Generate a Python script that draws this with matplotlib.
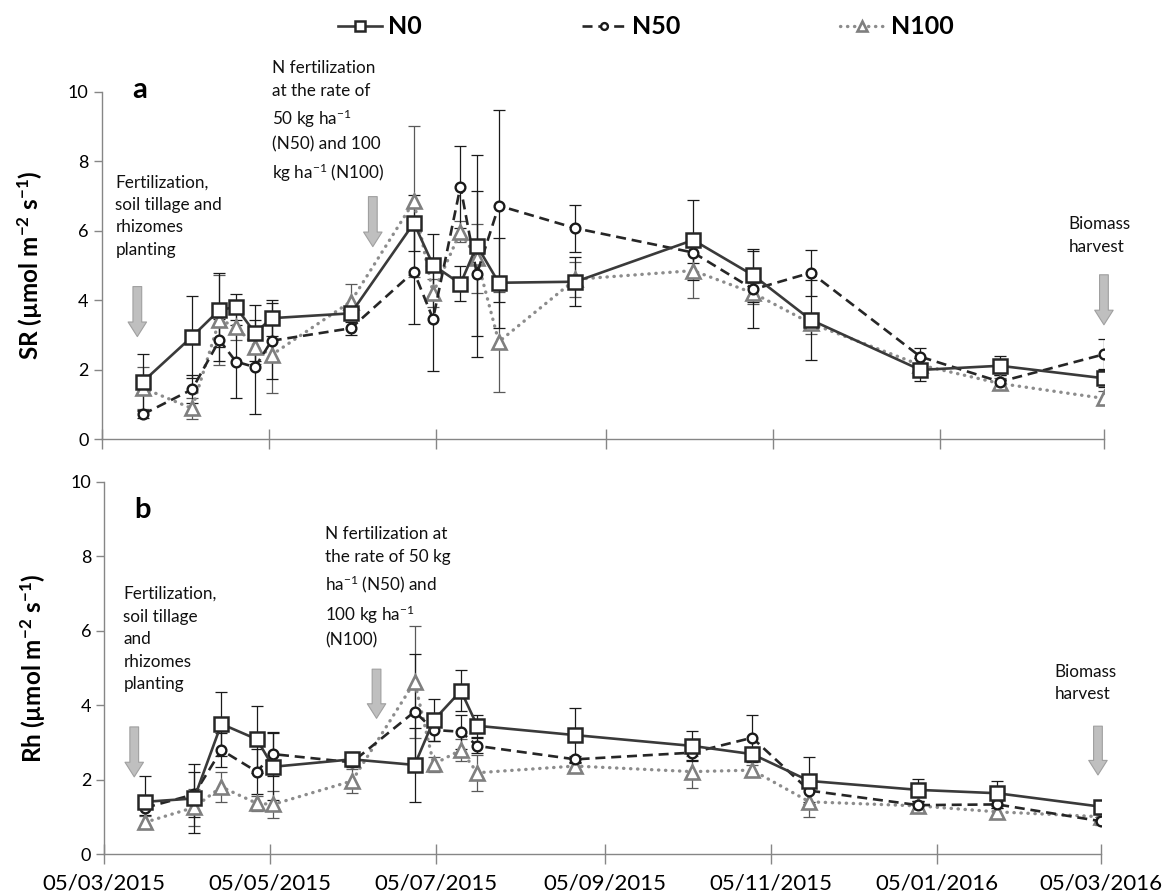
import matplotlib
matplotlib.use("Agg")
import matplotlib.pyplot as plt
import matplotlib.dates as mdates
import numpy as np
import pandas as pd

plt.rcParams['font.family'] = ['Lato', 'DejaVu Sans']
plt.rcParams['mathtext.fontset'] = 'custom'
plt.rcParams['mathtext.rm'] = 'Lato'
plt.rcParams['mathtext.bf'] = 'Lato:bold'
plt.rcParams['mathtext.it'] = 'Lato:italic'

# ---------------- data ----------------
dates_a = ['2015-03-20', '2015-04-07', '2015-04-17', '2015-04-23', '2015-04-30', '2015-05-06',
           '2015-06-04', '2015-06-27', '2015-07-04', '2015-07-14', '2015-07-20', '2015-07-28',
           '2015-08-25', '2015-10-07', '2015-10-29', '2015-11-19', '2015-12-29', '2016-01-27',
           '2016-03-05']
sr_n0 = [1.65, 2.95, 3.72, 3.80, 3.05, 3.48, 3.62, 6.22, 5.01, 4.47, 5.57, 4.50, 4.53, 5.73, 4.71, 3.43, 1.99, 2.11, 1.75]
sr_n50 = [0.71, 1.43, 2.85, 2.23, 2.07, 2.83, 3.19, 4.82, 3.46, 7.27, 4.75, 6.72, 6.07, 5.37, 4.31, 4.79, 2.37, 1.65, 2.44]
sr_n100 = [1.47, 0.88, 3.43, 3.24, 2.66, 2.42, 3.96, 6.84, 4.20, 5.97, 5.20, 2.80, 4.60, 4.85, 4.20, 3.33, 2.13, 1.60, 1.17]
sr_n0_se = [0.8, 1.18, 1.07, 0.37, 0.8, 0.52, 0.2, 0.8, 0.9, 0.5, 2.6, 1.3, 0.7, 1.15, 0.76, 1.15, 0.33, 0.28, 0.25]
sr_n50_se = [0.1, 0.4, 0.6, 1.06, 1.36, 1.1, 0.19, 1.5, 1.5, 1.18, 2.4, 2.76, 0.67, 0.3, 1.1, 0.66, 0.25, 0.2, 0.43]
sr_n100_se = [0.6, 0.3, 1.3, 0.4, 0.5, 1.1, 0.5, 2.16, 0.4, 0.3, 1.0, 1.44, 0.5, 0.8, 0.3, 0.3, 0.2, 0.15, 0.2]

dates_b = ['2015-03-20', '2015-04-07', '2015-04-17', '2015-04-30', '2015-05-06', '2015-06-04',
           '2015-06-27', '2015-07-04', '2015-07-14', '2015-07-20', '2015-08-25', '2015-10-07',
           '2015-10-29', '2015-11-19', '2015-12-29', '2016-01-27', '2016-03-05']
rh_n0 = [1.41, 1.50, 3.50, 3.09, 2.35, 2.55, 2.40, 3.60, 4.39, 3.45, 3.20, 2.91, 2.69, 1.97, 1.73, 1.64, 1.28]
rh_n50 = [1.25, 1.61, 2.80, 2.22, 2.69, 2.47, 3.83, 3.34, 3.29, 2.91, 2.55, 2.73, 3.13, 1.71, 1.32, 1.34, 0.89]
rh_n100 = [0.86, 1.26, 1.81, 1.37, 1.34, 1.97, 4.63, 2.42, 2.80, 2.19, 2.37, 2.22, 2.26, 1.41, 1.30, 1.14, 1.01]
rh_n0_se = [0.7, 0.92, 0.85, 0.9, 0.9, 0.2, 1.0, 0.56, 0.55, 0.3, 0.72, 0.4, 0.2, 0.63, 0.3, 0.34, 0.1]
rh_n50_se = [0.2, 0.6, 0.45, 0.6, 0.6, 0.1, 1.55, 0.3, 0.45, 0.2, 0.1, 0.2, 0.6, 0.3, 0.1, 0.1, 0.1]
rh_n100_se = [0.18, 0.5, 0.4, 0.2, 0.36, 0.33, 1.5, 0.2, 0.3, 0.48, 0.1, 0.43, 0.15, 0.4, 0.1, 0.1, 0.1]

series_names = ['N0', 'N50', 'N100']
x_ticks = ['2015-03-05', '2015-05-05', '2015-07-05', '2015-09-05', '2015-11-05', '2016-01-05', '2016-03-05']
y_ticks = [0, 2, 4, 6, 8, 10]

# annotations: (text, x date, y value)
notes_a = [
    ("Fertilization,\nsoil tillage and\nrhizomes\nplanting", '2015-03-10', 7.62),
    ("N fertilization\nat the rate of\n50 kg ha$^{-1}$\n(N50) and 100\nkg ha$^{-1}$ (N100)", '2015-05-06', 10.9),
    ("Biomass\nharvest", '2016-02-21', 6.42),
]
notes_b = [
    ("Fertilization,\nsoil tillage\nand\nrhizomes\nplanting", '2015-03-12', 7.2),
    ("N fertilization at\nthe rate of 50 kg\nha$^{-1}$ (N50) and\n100 kg ha$^{-1}$\n(N100)", '2015-05-25', 8.8),
    ("Biomass\nharvest", '2016-02-17', 5.12),
]
arrows_a = [('2015-03-18', 4.39, 2.95), ('2015-06-12', 6.98, 5.54), ('2016-03-05', 4.73, 3.29)]
arrows_b = [('2015-03-16', 3.42, 2.08), ('2015-06-13', 4.97, 3.65), ('2016-03-04', 3.44, 2.13)]

# ---------------- styles ----------------
styles = {
    'N0': dict(color='#3a3a3a', ls='-', marker='s', ms=9.5, mfc='white', mec='#262626', mew=1.8, lw=1.9, zorder=6),
    'N50': dict(color='#262626', ls=(0, (3.8, 2.2)), marker='o', ms=7, mfc='white', mec='#1a1a1a', mew=1.7, lw=1.9, zorder=5),
    'N100': dict(color='#8c8c8c', ls=(0, (0.1, 2.0)), marker='^', ms=10, mfc='white', mec='#7f7f7f', mew=1.9, lw=2.4,
                 dash_capstyle='round', zorder=4),
}
err_colors = {'N0': '#1a1a1a', 'N50': '#1a1a1a', 'N100': '#595959'}

fig = plt.figure(figsize=(11.64, 8.96), dpi=100)
ax_a = fig.add_axes([0.0874, 0.510, 0.861, 0.3876])
ax_b = fig.add_axes([0.0896, 0.0465, 0.856, 0.4158])


def draw_panel(ax, dates, vals, errs, notes, arrows, letter, letter_pos, ylab, show_xlabels):
    d = pd.to_datetime(dates)
    handles = []
    for name, v, e in zip(series_names, vals, errs):
        st = styles[name]
        ax.errorbar(d, v, yerr=e, fmt='none', ecolor=err_colors[name], elinewidth=0.9,
                    capsize=4.3, capthick=0.9, zorder=st['zorder'] - 3)
        ln, = ax.plot(d, v, label=name, **st)
        handles.append(ln)
    ax.set_xlim(pd.Timestamp('2015-03-05'), pd.Timestamp('2016-03-05'))
    ax.set_ylim(0, 10)
    ax.set_yticks(y_ticks)
    ax.set_xticks(pd.to_datetime(x_ticks))
    ax.xaxis.set_major_formatter(mdates.DateFormatter('%d/%m/%Y'))
    if not show_xlabels:
        ax.tick_params(axis='x', labelbottom=False)
    for s in ['top', 'right']:
        ax.spines[s].set_visible(False)
    for s in ['left', 'bottom']:
        ax.spines[s].set_color('#868686')
        ax.spines[s].set_linewidth(1.0)
    ax.tick_params(axis='x', direction='inout', length=14, width=1, color='#868686', labelsize=16, pad=7)
    ax.tick_params(axis='y', direction='out', length=6, width=1, color='#868686', labelsize=13)
    ax.set_ylabel(ylab, fontsize=17.5, fontweight='bold', labelpad=17)
    for txt, xd, yv in notes:
        ax.text(pd.Timestamp(xd), yv, txt, fontsize=12.3, va='top', ha='left', linespacing=1.5, color='#111111')
    for xd, y0, y1 in arrows:
        ax.annotate('', xy=(pd.Timestamp(xd), y1), xytext=(pd.Timestamp(xd), y0),
                    arrowprops=dict(arrowstyle='simple,head_length=0.75,head_width=0.95,tail_width=0.45',
                                    fc='#bfbfbf', ec='#a0a0a0', lw=0.8, shrinkA=0, shrinkB=0,
                                    mutation_scale=14))
    ax.text(pd.Timestamp(letter_pos[0]), letter_pos[1], letter, fontsize=21, fontweight='bold',
            ha='center', va='center')
    return handles


handles = draw_panel(ax_a, dates_a, [sr_n0, sr_n50, sr_n100], [sr_n0_se, sr_n50_se, sr_n100_se],
                     notes_a, arrows_a, 'a', ('2015-03-19', 10.06),
                     'SR (µmol m$^{\\mathbf{-2}}$ s$^{\\mathbf{-1}}$)', False)
draw_panel(ax_b, dates_b, [rh_n0, rh_n50, rh_n100], [rh_n0_se, rh_n50_se, rh_n100_se],
           notes_b, arrows_b, 'b', ('2015-03-19', 9.24),
           'Rh (µmol m$^{\\mathbf{-2}}$ s$^{\\mathbf{-1}}$)', True)

fig.legend(handles=handles, labels=series_names, loc='center', bbox_to_anchor=(0.5546, 0.970), ncol=3,
           frameon=False, prop=dict(size=18, weight='bold'), handlelength=1.76, columnspacing=6.4,
           handletextpad=0.25, markerscale=0.7)

fig.savefig('out.png', dpi=100)
